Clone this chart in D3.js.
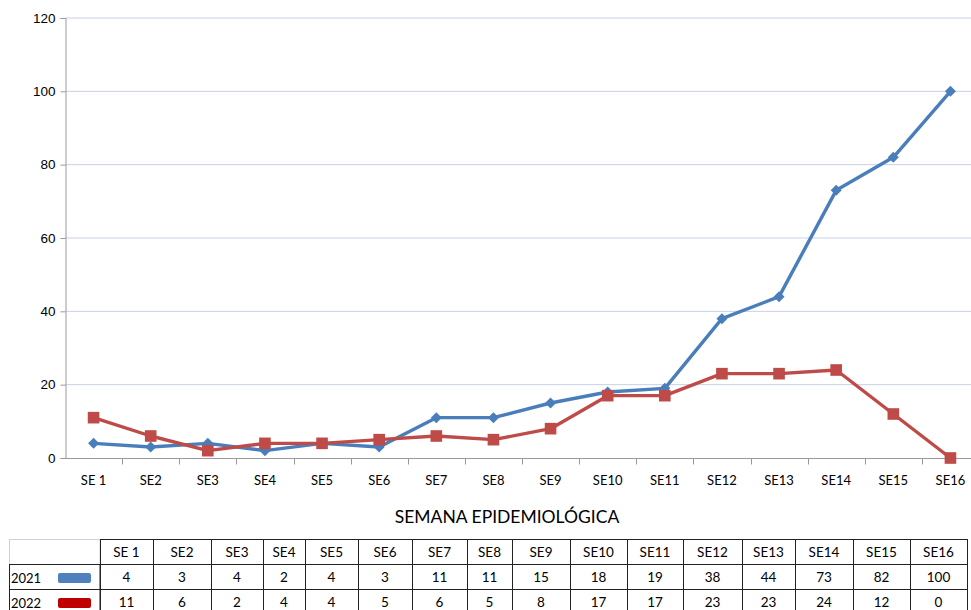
<!DOCTYPE html>
<html>
<head>
<meta charset="utf-8">
<script src="https://cdn.jsdelivr.net/npm/d3@7"></script>
<style>
  html, body { margin: 0; padding: 0; background: #fff; }
  svg { display: block; font-family: Lato, "Open Sans", sans-serif; }
</style>
</head>
<body>
<svg id="chart" width="971" height="610"></svg>
<script>
const weeks = ["SE 1", "SE2", "SE3", "SE4", "SE5", "SE6", "SE7", "SE8", "SE9", "SE10", "SE11", "SE12", "SE13", "SE14", "SE15", "SE16"];
const values2021 = [4, 3, 4, 2, 4, 3, 11, 11, 15, 18, 19, 38, 44, 73, 82, 100];
const values2022 = [11, 6, 2, 4, 4, 5, 6, 5, 8, 17, 17, 23, 23, 24, 12, 0];
const yTicks = [0, 20, 40, 60, 80, 100, 120];
const seriesNames = ["2021", "2022"];

// table column edges (the data table under the chart has uneven widths)
const colEdges = [100, 153, 211, 263, 305, 358, 412, 467, 512, 570, 627, 683, 742, 795, 853, 910, 967];

const series = [
  { name: seriesNames[0], values: values2021, color: "#4a7ebb", swatch: "#4f81bd", marker: "diamond" },
  { name: seriesNames[1], values: values2022, color: "#be4b48", swatch: "#c00000", marker: "square" }
];

const svg = d3.select("#chart");

const x = d3.scaleBand().domain(weeks).range([65, 979]);
const y = d3.scaleLinear().domain([0, 120]).range([458, 18]);

// gridlines
svg.append("g")
  .selectAll("line")
  .data(yTicks.filter(d => d > 0))
  .enter()
  .append("line")
  .attr("x1", 65).attr("x2", 971)
  .attr("y1", d => y(d)).attr("y2", d => y(d))
  .attr("stroke", "#c6d0e6")
  .attr("stroke-width", 1);

// y axis
const yAxis = svg.append("g")
  .attr("transform", "translate(65.5,0)")
  .call(d3.axisLeft(y).tickValues(yTicks).tickSize(5).tickPadding(5));
yAxis.select(".domain").attr("stroke", "#9a9a9a");
yAxis.selectAll(".tick line").attr("stroke", "#9a9a9a");
yAxis.selectAll(".tick text").attr("font-size", 13.5).attr("fill", "#000");

// x axis, ticks between categories
const xAxis = svg.append("g").attr("transform", "translate(0,458.5)");
xAxis.append("line")
  .attr("x1", 65).attr("x2", 971)
  .attr("stroke", "#9a9a9a");
xAxis.selectAll("line.tk")
  .data(weeks.slice(1))
  .enter()
  .append("line")
  .attr("class", "tk")
  .attr("x1", d => Math.round(x(d)) + 0.5).attr("x2", d => Math.round(x(d)) + 0.5)
  .attr("y1", 0).attr("y2", 6)
  .attr("stroke", "#9a9a9a");
xAxis.selectAll("text")
  .data(weeks)
  .enter()
  .append("text")
  .attr("x", d => x(d) + x.bandwidth() / 2)
  .attr("y", 26)
  .attr("text-anchor", "middle")
  .attr("font-size", 13)
  .text(d => d);

// lines
const line = d3.line()
  .x((d, i) => x(weeks[i]) + x.bandwidth() / 2)
  .y(d => y(d));

series.forEach(s => {
  const g = svg.append("g");
  g.append("path")
    .datum(s.values)
    .attr("d", line)
    .attr("fill", "none")
    .attr("stroke", s.color)
    .attr("stroke-width", 3.4)
    .attr("stroke-linejoin", "round");
  const sym = s.marker === "diamond"
    ? d3.symbol().type(d3.symbolSquare).size(60)
    : d3.symbol().type(d3.symbolSquare).size(135);
  g.selectAll("path.mk")
    .data(s.values)
    .enter()
    .append("path")
    .attr("class", "mk")
    .attr("d", sym)
    .attr("transform", (d, i) => {
      const px = x(weeks[i]) + x.bandwidth() / 2;
      return `translate(${px},${y(d)})` + (s.marker === "diamond" ? " rotate(45)" : "");
    })
    .attr("fill", s.color);
});

// axis title
svg.append("text")
  .attr("x", 507)
  .attr("y", 523)
  .attr("text-anchor", "middle")
  .attr("font-size", 17.5)
  .text("SEMANA EPIDEMIOLÓGICA");

// data table
const tableTop = 539, rowH = 25;
const colX = i => colEdges[i];
const colW = i => colEdges[i + 1] - colEdges[i];
const table = svg.append("g").attr("font-size", 13.5);

// top-left empty cell
table.append("rect")
  .attr("x", 9.5).attr("y", tableTop + 0.5)
  .attr("width", 90.5).attr("height", rowH)
  .attr("fill", "none")
  .attr("stroke", "#c9d1e2");

// header row
weeks.forEach((w, i) => {
  table.append("rect")
    .attr("x", colX(i) + 0.5).attr("y", tableTop + 0.5)
    .attr("width", colW(i)).attr("height", rowH)
    .attr("fill", "none").attr("stroke", "#222");
  table.append("text")
    .attr("x", colX(i) + colW(i) / 2)
    .attr("y", tableTop + 18)
    .attr("text-anchor", "middle")
    .text(w);
});

// series rows
series.forEach((s, r) => {
  const ry = tableTop + rowH * (r + 1);
  table.append("rect")
    .attr("x", 9.5).attr("y", ry + 0.5)
    .attr("width", 90.5).attr("height", rowH)
    .attr("fill", "none").attr("stroke", "#222");
  table.append("text")
    .attr("x", 11).attr("y", ry + 19)
    .attr("font-size", 13)
    .text(s.name);
  table.append("rect")
    .attr("x", 58).attr("y", ry + 9)
    .attr("width", 33).attr("height", 10)
    .attr("rx", 2)
    .attr("fill", s.swatch);
  s.values.forEach((v, i) => {
    table.append("rect")
      .attr("x", colX(i) + 0.5).attr("y", ry + 0.5)
      .attr("width", colW(i)).attr("height", rowH)
      .attr("fill", "none").attr("stroke", "#222");
    table.append("text")
      .attr("x", colX(i) + colW(i) / 2)
      .attr("y", ry + 18)
      .attr("text-anchor", "middle")
      .text(v);
  });
});
</script>
</body>
</html>
